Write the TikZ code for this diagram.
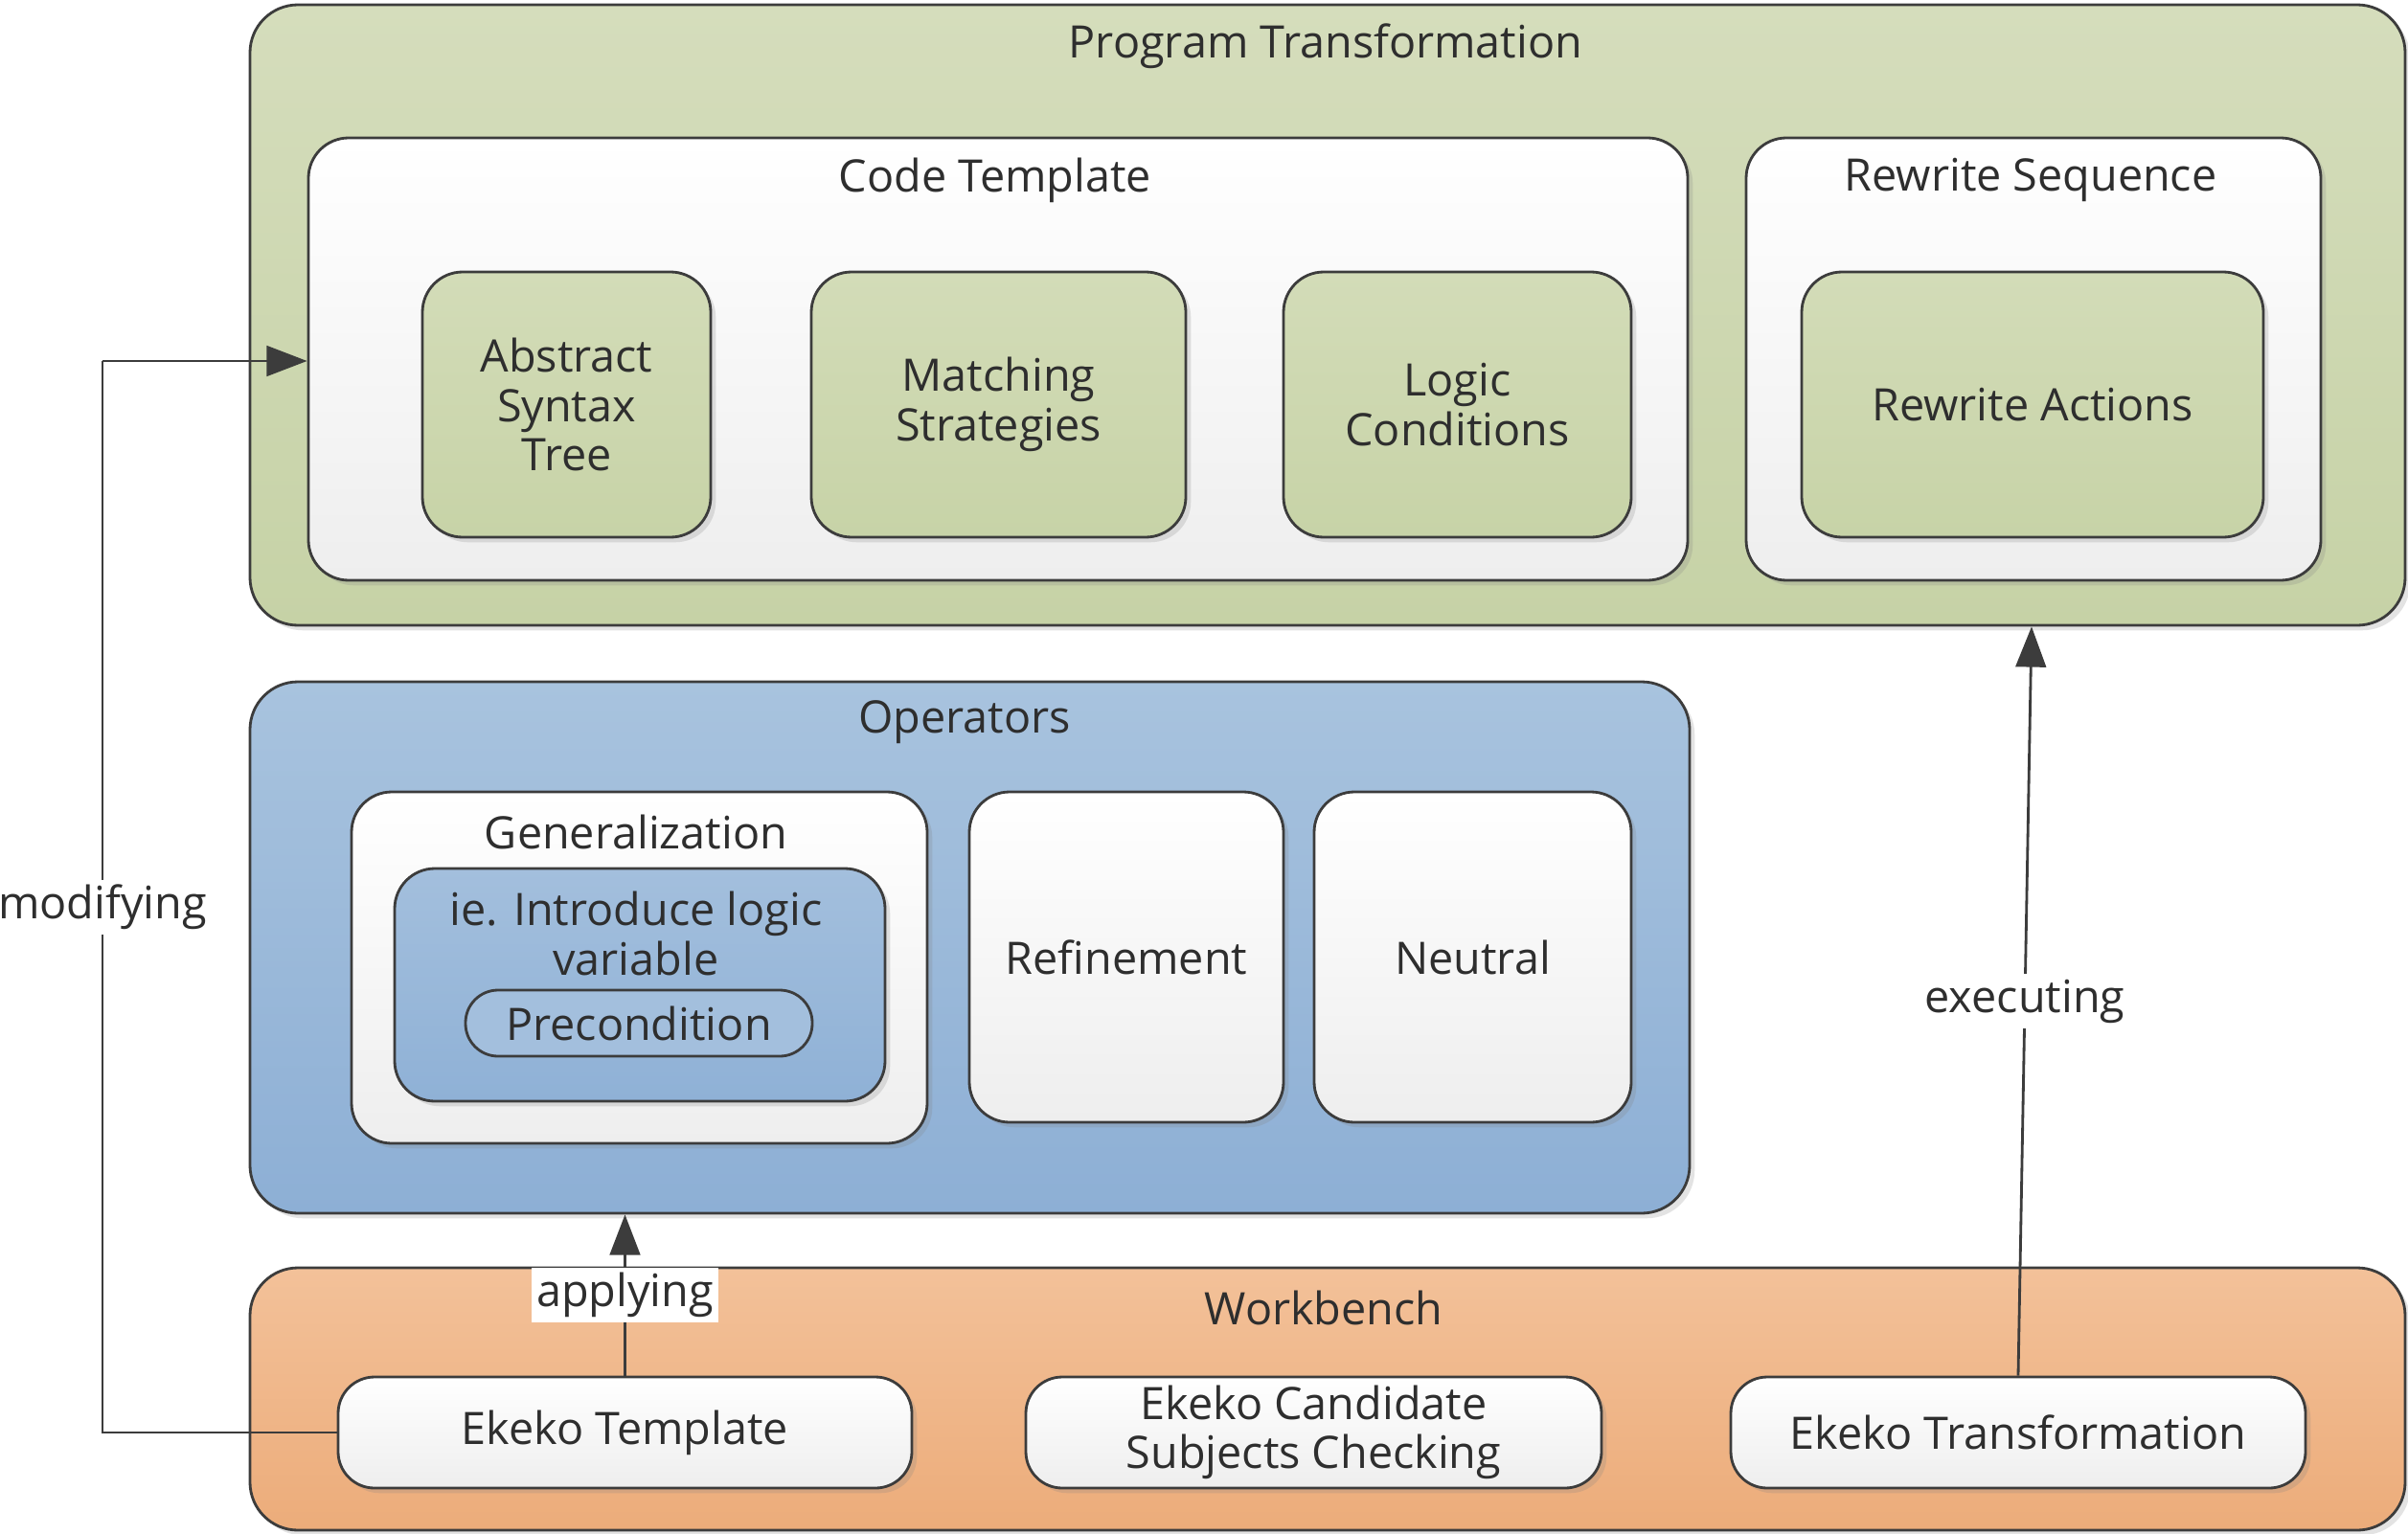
\documentclass[tikz,border=0pt]{standalone}
\usepackage{fontspec}
\setmainfont{Open Sans}
\usetikzlibrary{arrows.meta,shadows}
\definecolor{bord}{HTML}{3C3C3C}
\definecolor{txt}{HTML}{2E2E2E}
\definecolor{gTop}{HTML}{D5DDBC}
\definecolor{gBot}{HTML}{C6D2A6}
\definecolor{gInTop}{HTML}{D3DCB8}
\definecolor{gInBot}{HTML}{C7D3A7}
\definecolor{bTop}{HTML}{A8C3DE}
\definecolor{bBot}{HTML}{8DAFD5}
\definecolor{biTop}{HTML}{A3BFDD}
\definecolor{biBot}{HTML}{8FB1D6}
\definecolor{oTop}{HTML}{F3C199}
\definecolor{oBot}{HTML}{ECAC7A}
\definecolor{wBot}{HTML}{EEEEEE}
\tikzset{
  every node/.style={font=\fontsize{13.3}{14.6}\selectfont, text=txt},
  base/.style={draw=bord, line width=0.8pt, rounded corners=0.42cm, inner sep=0pt, align=center},
  shad/.style={drop shadow={opacity=0.22, shadow xshift=1.5pt, shadow yshift=-1.5pt}},
  greenouter/.style={base, rounded corners=0.5cm, top color=gTop, bottom color=gBot, shad},
  blueouter/.style={base, rounded corners=0.5cm, top color=bTop, bottom color=bBot, shad},
  orangeouter/.style={base, rounded corners=0.5cm, top color=oTop, bottom color=oBot, shad},
  whitebox/.style={base, top color=white, bottom color=wBot, shad},
  greenbox/.style={base, top color=gInTop, bottom color=gInBot, shad},
  bluebox/.style={base, top color=biTop, bottom color=biBot, shad},
  pill/.style={base, rounded corners=0.38cm, top color=white, bottom color=wBot, shad},
  precond/.style={base, rounded corners=0.34cm, fill=biTop},
  title/.style={inner sep=1pt},
  conn/.style={draw=bord, line width=0.8pt, -{Triangle[length=12pt, width=9pt]}},
  plain/.style={draw=bord, line width=0.8pt},
  lab/.style={fill=white, inner sep=1.5pt}
}
\begin{document}
\begin{tikzpicture}[x=1cm, y=-1cm]
\useasboundingbox[fill=white] (0,0) rectangle (25.14,16.02);

% Program Transformation
\node[greenouter, minimum width=22.50cm, minimum height=6.48cm] (pt) at (13.86,3.29) {};
\node[title] (ptt) at (13.84,0.48) {Program Transformation};
\node[whitebox, minimum width=14.40cm, minimum height=4.62cm] (ct) at (10.42,3.75) {};
\node[title] (ctt) at (10.39,1.88) {Code Template};
\node[greenbox, minimum width=3.01cm, minimum height=2.77cm] (ast) at (5.915,4.225) {Abstract\\Syntax\\Tree};
\node[greenbox, minimum width=3.91cm, minimum height=2.77cm] (ms) at (10.425,4.225) {Matching\\Strategies};
\node[greenbox, minimum width=3.63cm, minimum height=2.77cm] (lc) at (15.215,4.225) {Logic\\Conditions};
\node[whitebox, minimum width=6.00cm, minimum height=4.62cm] (rs) at (21.23,3.75) {};
\node[title] (rst) at (21.20,1.88) {Rewrite Sequence};
\node[greenbox, minimum width=4.82cm, minimum height=2.77cm] (ra) at (21.22,4.225) {Rewrite Actions};

% Operators
\node[blueouter, minimum width=15.03cm, minimum height=5.55cm] (ops) at (10.125,9.895) {};
\node[title] (opst) at (10.07,7.54) {Operators};
\node[whitebox, minimum width=6.01cm, minimum height=3.67cm] (gen) at (6.675,10.105) {};
\node[title] (gent) at (6.64,8.69) {Generalization};
\node[bluebox, minimum width=5.12cm, minimum height=2.43cm] (ie) at (6.68,10.285) {};
\node[title, align=center] (iet) at (6.64,9.75) {ie. Introduce logic\\variable};
\node[precond, minimum width=3.62cm, minimum height=0.69cm] (pre) at (6.67,10.685) {Precondition};
\node[whitebox, minimum width=3.28cm, minimum height=3.45cm] (ref) at (11.76,9.995) {Refinement};
\node[whitebox, minimum width=3.31cm, minimum height=3.45cm] (neu) at (15.375,9.995) {Neutral};

% Workbench
\node[orangeouter, minimum width=22.50cm, minimum height=2.74cm] (wb) at (13.86,14.61) {};
\node[title] (wbt) at (13.82,13.66) {Workbench};
\node[pill, minimum width=5.99cm, minimum height=1.16cm] (et) at (6.525,14.96) {Ekeko Template};
\node[pill, minimum width=6.01cm, minimum height=1.16cm] (ec) at (13.715,14.96) {Ekeko Candidate\\Subjects Checking};
\node[pill, minimum width=6.00cm, minimum height=1.16cm] (etr) at (21.07,14.96) {Ekeko Transformation};

% connectors
\coordinate (modc) at (1.07,3.77);
\draw[plain] (et.west) -| (modc) node[lab, pos=0.745] {modifying};
\draw[conn] (modc) -- (modc -| ct.west);
\draw[conn] (et.north) -- (et.north |- ops.south) node[lab, midway] {applying};
\draw[conn] (etr.north) -- ([xshift=0.14cm]etr.north |- pt.south) node[lab, midway] {executing};
\end{tikzpicture}
\end{document}
